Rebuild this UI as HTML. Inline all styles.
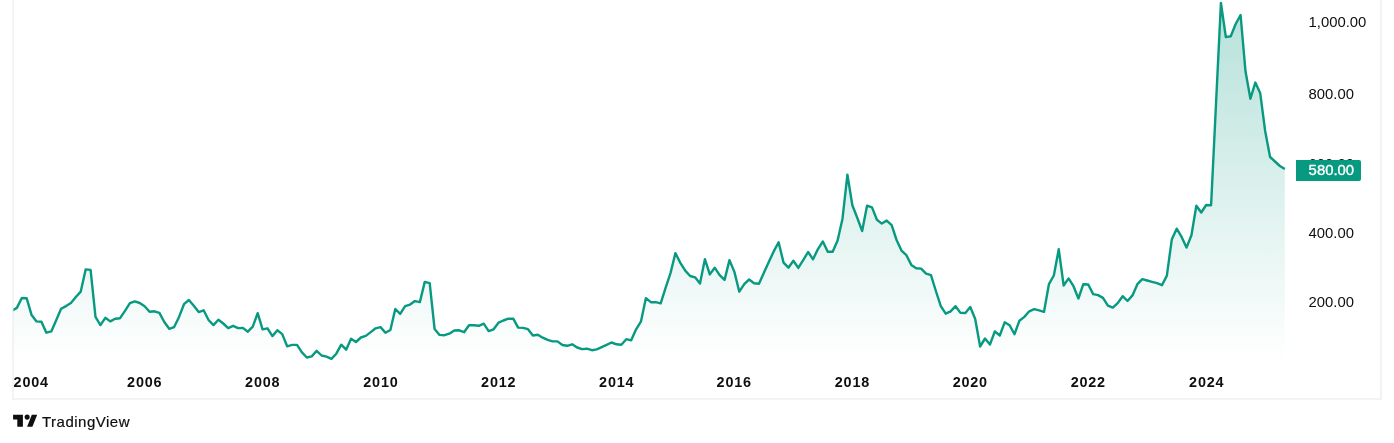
<!DOCTYPE html>
<html><head><meta charset="utf-8"><title>TradingView chart</title>
<style>
html,body{margin:0;padding:0;background:#fff;}
body{width:1394px;height:443px;position:relative;overflow:hidden;font-family:"Liberation Sans",sans-serif;color:#0f0f0f;}
svg{position:absolute;left:0;top:0;}
.yl{position:absolute;left:1308.6px;font-size:14.85px;line-height:16px;height:16px;transform:scaleY(1.04);transform-origin:50% 50%;margin-top:1.1px;white-space:nowrap;color:#0f0f0f;}
.xl{position:absolute;top:373.5px;width:60px;margin-left:-30px;text-align:center;font-size:14.4px;font-weight:bold;line-height:16px;letter-spacing:0.8px;white-space:nowrap;color:#0f0f0f;}
#last{position:absolute;left:1296px;top:160px;width:65px;height:21px;background:#089981;border-radius:0 2px 2px 0;color:#fff;font-size:14.9px;font-weight:normal;-webkit-text-stroke:0.35px #fff;line-height:21px;text-align:left;padding-left:12.6px;box-sizing:border-box;white-space:nowrap;}
#logo{position:absolute;left:42px;top:412.1px;font-size:15px;line-height:20px;letter-spacing:0.5px;color:#0f0f0f;-webkit-text-stroke:0.2px #0f0f0f;white-space:nowrap;}
</style></head><body>
<svg width="1394" height="443" viewBox="0 0 1394 443">
<defs>
<linearGradient id="g" x1="0" y1="0" x2="0" y2="362" gradientUnits="userSpaceOnUse">
<stop offset="0" stop-color="#089981" stop-opacity="0.30"/>
<stop offset="1" stop-color="#089981" stop-opacity="0"/>
</linearGradient>
<clipPath id="c"><rect x="13.4" y="0" width="1366" height="398"/></clipPath>
</defs>
<g fill="#f2f2f2"><rect x="12.2" y="0" width="1.7" height="399.8"/><rect x="1380.1" y="0" width="1.8" height="399.8"/><rect x="12.2" y="398.1" width="1369.7" height="1.7"/></g>
<g clip-path="url(#c)">
<path d="M11.96 310.60 L16.87 307.90 L21.79 298.00 L26.70 298.30 L31.61 315.10 L36.53 321.40 L41.44 321.80 L46.36 332.70 L51.27 331.40 L56.19 320.20 L61.10 308.80 L66.02 306.10 L70.93 303.00 L75.84 297.00 L80.76 291.60 L85.67 269.40 L90.59 269.90 L95.50 316.90 L100.42 325.10 L105.33 317.80 L110.25 321.40 L115.16 318.70 L120.08 318.20 L124.99 310.80 L129.90 303.20 L134.82 301.40 L139.73 303.00 L144.65 306.30 L149.56 311.80 L154.48 311.30 L159.39 312.90 L164.31 322.00 L169.22 328.80 L174.13 327.10 L179.05 316.90 L183.96 304.20 L188.88 300.00 L193.79 305.70 L198.71 312.10 L203.62 310.30 L208.54 320.00 L213.45 325.10 L218.37 319.70 L223.28 323.50 L228.19 328.10 L233.11 325.80 L238.02 328.10 L242.94 327.90 L247.85 331.70 L252.77 326.60 L257.68 313.20 L262.60 329.40 L267.51 328.30 L272.43 336.10 L277.34 330.30 L282.25 334.10 L287.17 346.30 L292.08 344.90 L297.00 344.90 L301.91 352.40 L306.83 357.50 L311.74 356.40 L316.66 350.80 L321.57 355.50 L326.48 356.70 L331.40 358.90 L336.31 353.70 L341.23 344.70 L346.14 349.70 L351.06 338.80 L355.97 342.00 L360.89 337.50 L365.80 335.90 L370.72 332.10 L375.63 328.30 L380.54 327.10 L385.46 332.70 L390.37 330.00 L395.29 309.00 L400.20 313.90 L405.12 306.10 L410.03 304.60 L414.95 301.10 L419.86 302.10 L424.77 281.90 L429.69 283.10 L434.60 329.00 L439.52 334.90 L444.43 335.20 L449.35 333.70 L454.26 330.50 L459.18 330.30 L464.09 332.20 L469.00 325.30 L473.92 325.30 L478.83 325.80 L483.75 323.70 L488.66 331.10 L493.58 329.30 L498.49 322.70 L503.41 320.50 L508.32 318.70 L513.24 318.60 L518.15 327.60 L523.06 327.90 L527.98 329.20 L532.89 335.50 L537.81 334.80 L542.72 337.70 L547.64 339.90 L552.55 341.40 L557.47 341.40 L562.38 345.00 L567.30 345.80 L572.21 344.30 L577.12 347.50 L582.04 349.10 L586.95 348.70 L591.87 350.20 L596.78 349.40 L601.70 347.20 L606.61 344.90 L611.53 342.50 L616.44 344.30 L621.35 344.70 L626.27 339.20 L631.18 340.30 L636.10 329.30 L641.01 321.30 L645.93 298.10 L650.84 302.20 L655.76 302.20 L660.67 303.40 L665.59 287.80 L670.50 273.10 L675.41 253.10 L680.33 262.90 L685.24 270.60 L690.16 276.00 L695.07 277.30 L699.99 283.60 L704.90 259.20 L709.82 274.40 L714.73 267.70 L719.64 275.10 L724.56 279.90 L729.47 260.10 L734.39 271.90 L739.30 291.70 L744.22 284.10 L749.13 279.50 L754.05 283.30 L758.96 283.70 L763.88 272.80 L768.79 262.00 L773.70 251.40 L778.62 242.20 L783.53 262.60 L788.45 267.70 L793.36 260.80 L798.28 267.90 L803.19 260.10 L808.11 252.00 L813.02 259.30 L817.93 249.10 L822.85 241.40 L827.76 251.70 L832.68 251.80 L837.59 240.50 L842.51 218.70 L847.42 174.60 L852.34 205.30 L857.25 217.80 L862.17 231.10 L867.08 205.60 L871.99 207.40 L876.91 219.80 L881.82 223.60 L886.74 220.60 L891.65 225.20 L896.57 240.00 L901.48 250.60 L906.40 255.20 L911.31 264.90 L916.22 268.20 L921.14 268.60 L926.05 273.70 L930.97 275.10 L935.88 291.00 L940.80 306.20 L945.71 313.70 L950.63 311.30 L955.54 306.20 L960.46 312.90 L965.37 313.00 L970.28 307.00 L975.20 319.00 L980.11 346.50 L985.03 338.50 L989.94 344.50 L994.86 331.40 L999.77 335.50 L1004.69 322.30 L1009.60 325.20 L1014.51 334.20 L1019.43 320.70 L1024.34 316.90 L1029.26 311.30 L1034.17 309.20 L1039.09 310.40 L1044.00 311.80 L1048.92 284.20 L1053.83 275.50 L1058.75 249.30 L1063.66 285.50 L1068.57 278.40 L1073.49 286.20 L1078.40 298.50 L1083.32 284.20 L1088.23 284.50 L1093.15 294.10 L1098.06 295.10 L1102.98 297.90 L1107.89 305.60 L1112.80 307.60 L1117.72 303.10 L1122.63 296.20 L1127.55 301.00 L1132.46 295.40 L1137.38 284.20 L1142.29 279.10 L1147.21 280.50 L1152.12 281.90 L1157.04 283.20 L1161.95 285.20 L1166.86 275.60 L1171.78 239.60 L1176.69 228.70 L1181.61 236.90 L1186.52 247.60 L1191.44 235.20 L1196.35 205.70 L1201.27 212.50 L1206.18 205.00 L1211.09 205.20 L1216.01 104.00 L1220.92 3.00 L1225.84 37.10 L1230.75 36.30 L1235.67 24.00 L1240.58 15.00 L1245.50 71.30 L1250.41 98.70 L1255.33 82.60 L1260.24 93.30 L1265.15 131.00 L1270.07 157.00 L1274.98 161.50 L1279.90 166.00 L1284.81 169.10 L1284.81 362 L11.96 362 Z" fill="url(#g)" stroke="none"/>
<path d="M11.96 310.60 L16.87 307.90 L21.79 298.00 L26.70 298.30 L31.61 315.10 L36.53 321.40 L41.44 321.80 L46.36 332.70 L51.27 331.40 L56.19 320.20 L61.10 308.80 L66.02 306.10 L70.93 303.00 L75.84 297.00 L80.76 291.60 L85.67 269.40 L90.59 269.90 L95.50 316.90 L100.42 325.10 L105.33 317.80 L110.25 321.40 L115.16 318.70 L120.08 318.20 L124.99 310.80 L129.90 303.20 L134.82 301.40 L139.73 303.00 L144.65 306.30 L149.56 311.80 L154.48 311.30 L159.39 312.90 L164.31 322.00 L169.22 328.80 L174.13 327.10 L179.05 316.90 L183.96 304.20 L188.88 300.00 L193.79 305.70 L198.71 312.10 L203.62 310.30 L208.54 320.00 L213.45 325.10 L218.37 319.70 L223.28 323.50 L228.19 328.10 L233.11 325.80 L238.02 328.10 L242.94 327.90 L247.85 331.70 L252.77 326.60 L257.68 313.20 L262.60 329.40 L267.51 328.30 L272.43 336.10 L277.34 330.30 L282.25 334.10 L287.17 346.30 L292.08 344.90 L297.00 344.90 L301.91 352.40 L306.83 357.50 L311.74 356.40 L316.66 350.80 L321.57 355.50 L326.48 356.70 L331.40 358.90 L336.31 353.70 L341.23 344.70 L346.14 349.70 L351.06 338.80 L355.97 342.00 L360.89 337.50 L365.80 335.90 L370.72 332.10 L375.63 328.30 L380.54 327.10 L385.46 332.70 L390.37 330.00 L395.29 309.00 L400.20 313.90 L405.12 306.10 L410.03 304.60 L414.95 301.10 L419.86 302.10 L424.77 281.90 L429.69 283.10 L434.60 329.00 L439.52 334.90 L444.43 335.20 L449.35 333.70 L454.26 330.50 L459.18 330.30 L464.09 332.20 L469.00 325.30 L473.92 325.30 L478.83 325.80 L483.75 323.70 L488.66 331.10 L493.58 329.30 L498.49 322.70 L503.41 320.50 L508.32 318.70 L513.24 318.60 L518.15 327.60 L523.06 327.90 L527.98 329.20 L532.89 335.50 L537.81 334.80 L542.72 337.70 L547.64 339.90 L552.55 341.40 L557.47 341.40 L562.38 345.00 L567.30 345.80 L572.21 344.30 L577.12 347.50 L582.04 349.10 L586.95 348.70 L591.87 350.20 L596.78 349.40 L601.70 347.20 L606.61 344.90 L611.53 342.50 L616.44 344.30 L621.35 344.70 L626.27 339.20 L631.18 340.30 L636.10 329.30 L641.01 321.30 L645.93 298.10 L650.84 302.20 L655.76 302.20 L660.67 303.40 L665.59 287.80 L670.50 273.10 L675.41 253.10 L680.33 262.90 L685.24 270.60 L690.16 276.00 L695.07 277.30 L699.99 283.60 L704.90 259.20 L709.82 274.40 L714.73 267.70 L719.64 275.10 L724.56 279.90 L729.47 260.10 L734.39 271.90 L739.30 291.70 L744.22 284.10 L749.13 279.50 L754.05 283.30 L758.96 283.70 L763.88 272.80 L768.79 262.00 L773.70 251.40 L778.62 242.20 L783.53 262.60 L788.45 267.70 L793.36 260.80 L798.28 267.90 L803.19 260.10 L808.11 252.00 L813.02 259.30 L817.93 249.10 L822.85 241.40 L827.76 251.70 L832.68 251.80 L837.59 240.50 L842.51 218.70 L847.42 174.60 L852.34 205.30 L857.25 217.80 L862.17 231.10 L867.08 205.60 L871.99 207.40 L876.91 219.80 L881.82 223.60 L886.74 220.60 L891.65 225.20 L896.57 240.00 L901.48 250.60 L906.40 255.20 L911.31 264.90 L916.22 268.20 L921.14 268.60 L926.05 273.70 L930.97 275.10 L935.88 291.00 L940.80 306.20 L945.71 313.70 L950.63 311.30 L955.54 306.20 L960.46 312.90 L965.37 313.00 L970.28 307.00 L975.20 319.00 L980.11 346.50 L985.03 338.50 L989.94 344.50 L994.86 331.40 L999.77 335.50 L1004.69 322.30 L1009.60 325.20 L1014.51 334.20 L1019.43 320.70 L1024.34 316.90 L1029.26 311.30 L1034.17 309.20 L1039.09 310.40 L1044.00 311.80 L1048.92 284.20 L1053.83 275.50 L1058.75 249.30 L1063.66 285.50 L1068.57 278.40 L1073.49 286.20 L1078.40 298.50 L1083.32 284.20 L1088.23 284.50 L1093.15 294.10 L1098.06 295.10 L1102.98 297.90 L1107.89 305.60 L1112.80 307.60 L1117.72 303.10 L1122.63 296.20 L1127.55 301.00 L1132.46 295.40 L1137.38 284.20 L1142.29 279.10 L1147.21 280.50 L1152.12 281.90 L1157.04 283.20 L1161.95 285.20 L1166.86 275.60 L1171.78 239.60 L1176.69 228.70 L1181.61 236.90 L1186.52 247.60 L1191.44 235.20 L1196.35 205.70 L1201.27 212.50 L1206.18 205.00 L1211.09 205.20 L1216.01 104.00 L1220.92 3.00 L1225.84 37.10 L1230.75 36.30 L1235.67 24.00 L1240.58 15.00 L1245.50 71.30 L1250.41 98.70 L1255.33 82.60 L1260.24 93.30 L1265.15 131.00 L1270.07 157.00 L1274.98 161.50 L1279.90 166.00 L1284.81 169.10" fill="none" stroke="#089981" stroke-width="2.4" stroke-linejoin="round" stroke-linecap="butt"/>
</g>
<g fill="#0f0f0f">
<path d="M13.1 414.7H22.9V426.7H17.3V419.5H13.1Z"/>
<circle cx="27.15" cy="417.1" r="2.55"/>
<path d="M31.8 414.7H37.2L32.4 426.7H27.1Z"/>
</g>
</svg>
<div class="yl" style="top:13.4px">1,000.00</div>
<div class="yl" style="top:85px">800.00</div>
<div class="yl" style="top:155px">600.00</div>
<div class="yl" style="top:223.7px">400.00</div>
<div class="yl" style="top:292.6px">200.00</div>
<div id="last">580.00</div>
<div class="xl" style="left:31.2px">2004</div>
<div class="xl" style="left:144.7px">2006</div>
<div class="xl" style="left:262.7px">2008</div>
<div class="xl" style="left:380.9px">2010</div>
<div class="xl" style="left:498.7px">2012</div>
<div class="xl" style="left:616.7px">2014</div>
<div class="xl" style="left:734.2px">2016</div>
<div class="xl" style="left:852.4px">2018</div>
<div class="xl" style="left:970.3px">2020</div>
<div class="xl" style="left:1088.3px">2022</div>
<div class="xl" style="left:1206.7px">2024</div>
<div id="logo">TradingView</div>
</body></html>
